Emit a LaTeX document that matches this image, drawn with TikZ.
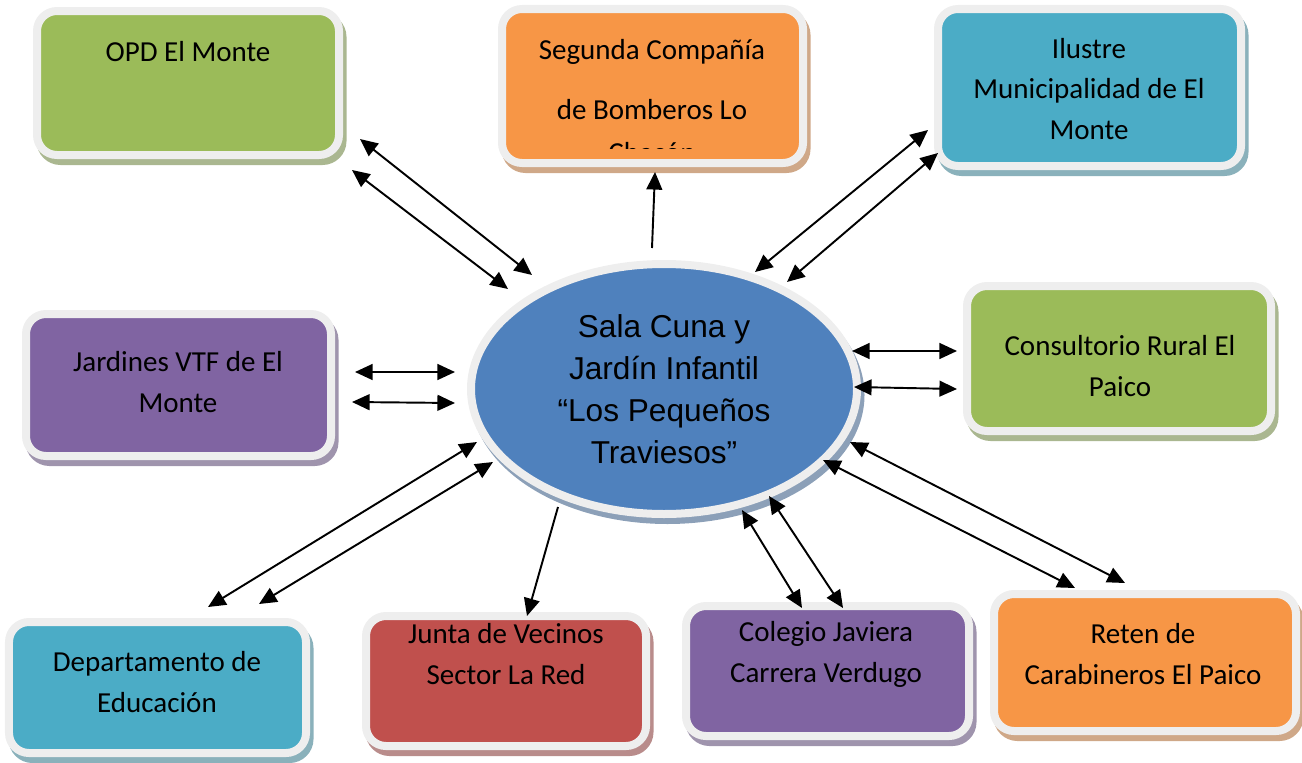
\documentclass[tikz,border=0pt]{standalone}
\usepackage{fontspec}
\setmainfont{Carlito}
\newfontfamily\arialfont{Liberation Sans}
\usetikzlibrary{arrows.meta,shapes.geometric,shadows}

\begin{document}
\begin{tikzpicture}[font=\fontsize{16.5}{23.3}\selectfont,
  orgbox/.style={draw=netFrame, line width=0.16cm, rounded corners=0.4cm,
    fill=#1, inner sep=0pt,
    drop shadow={shadow xshift=0.07cm, shadow yshift=-0.12cm,
      fill=#1!40!netShade, draw=#1!40!netShade, opacity=1}},
  orgtext/.style={align=center, inner sep=0pt},
  link/.style={line width=1.1pt,
    {Triangle[length=10pt,width=9pt]}-{Triangle[length=10pt,width=9pt]}},
  oneway/.style={line width=1.1pt, -{Triangle[length=10pt,width=9pt]}}]
  \definecolor{netFrame}{HTML}{EEEEEE}
  \definecolor{netShade}{HTML}{B4B4B4}
  \definecolor{netGreen}{HTML}{9BBB59}
  \definecolor{netOrange}{HTML}{F79646}
  \definecolor{netTeal}{HTML}{4BACC6}
  \definecolor{netPurple}{HTML}{8064A2}
  \definecolor{netRed}{HTML}{C0504D}
  \definecolor{netBlue}{HTML}{4F81BD}
  \useasboundingbox (0,0) rectangle (26.04,-15.24);

  % boxes round the centre
  \foreach \name/\x/\y/\w/\h/\tint in {
    opd/3.76/-1.66/6.04/2.88/netGreen,
    bomberos/13.05/-1.72/6.02/3.08/netOrange,
    muni/21.79/-1.75/6.06/3.14/netTeal,
    vtf/3.57/-7.70/6.10/2.84/netPurple,
    consultorio/22.38/-7.17/6.08/2.90/netGreen,
    educacion/3.15/-13.75/5.94/2.62/netTeal,
    junta/10.12/-13.62/5.60/2.60/netRed,
    colegio/16.55/-13.42/5.66/2.60/netPurple,
    reten/22.90/-13.25/6.04/2.74/netOrange}{
    \node[orgbox=\tint, minimum width=\w cm, minimum height=\h cm] (\name) at (\x,\y) {};
  }

  \node[orgtext] (opd-text) at (3.76,-1.04) {OPD El Monte};
  \begin{scope}
    \clip (9.9,-0.1) rectangle (16.2,-2.96);
    \node[orgtext] (bomberos-text) at (13.04,-2.02)
      {Segunda Compañía\\[10.8pt]de Bomberos Lo\\[1pt]Chacón};
  \end{scope}
  \node[orgtext] (muni-text) at (21.78,-1.78) {Ilustre\\Municipalidad de El\\Monte};
  \node[orgtext] (vtf-text) at (3.56,-7.64) {Jardines VTF de El\\Monte};
  \node[orgtext] (consultorio-text) at (22.40,-7.32) {Consultorio Rural El\\Paico};
  \node[orgtext] (educacion-text) at (3.14,-13.64) {Departamento de\\Educación};
  \node[orgtext] (junta-text) at (10.12,-13.08) {Junta de Vecinos\\Sector La Red};
  \node[orgtext] (colegio-text) at (16.52,-13.08) {Colegio Javiera\\Carrera Verdugo};
  \node[orgtext] (reten-text) at (22.86,-13.08) {Reten de\\Carabineros El Paico};

  % centre
  \node[ellipse, orgbox=netBlue, minimum width=7.72cm, minimum height=5.0cm,
    align=center, font=\arialfont\fontsize{18}{23.8}\selectfont] (sala) at (13.28,-7.78)
    {Sala Cuna y\\Jardín Infantil\\“Los Pequeños\\Traviesos”};

  % links
  \foreach \name/\ax/\ay/\bx/\by in {
    opdA/7.20/-2.78/10.64/-5.50,
    opdB/7.04/-3.40/10.16/-5.78,
    muniA/18.56/-2.60/15.10/-5.44,
    muniB/18.76/-3.06/15.74/-5.64,
    vtfA/7.10/-7.44/9.10/-7.44,
    vtfB/7.04/-8.04/9.10/-8.06,
    consultorioA/17.04/-7.02/19.14/-7.02,
    consultorioB/17.08/-7.74/19.14/-7.78,
    educacionA/9.54/-8.84/4.16/-12.14,
    educacionB/9.86/-9.24/5.18/-12.08,
    colegioA/14.84/-10.20/16.04/-12.16,
    colegioB/15.38/-9.92/16.86/-12.16,
    retenA/16.46/-9.20/21.50/-11.76,
    retenB/17.00/-8.84/22.50/-11.66}{
    \coordinate (\name-a) at (\ax,\ay);
    \coordinate (\name-b) at (\bx,\by);
    \draw[link] (\name-a) -- (\name-b);
  }
  \coordinate (bomberos-a) at (13.04,-4.96);
  \coordinate (bomberos-b) at (13.10,-3.44);
  \draw[oneway] (bomberos-a) -- (bomberos-b);
  \coordinate (junta-a) at (11.16,-10.14);
  \coordinate (junta-b) at (10.54,-12.32);
  \draw[oneway] (junta-a) -- (junta-b);
\end{tikzpicture}
\end{document}
